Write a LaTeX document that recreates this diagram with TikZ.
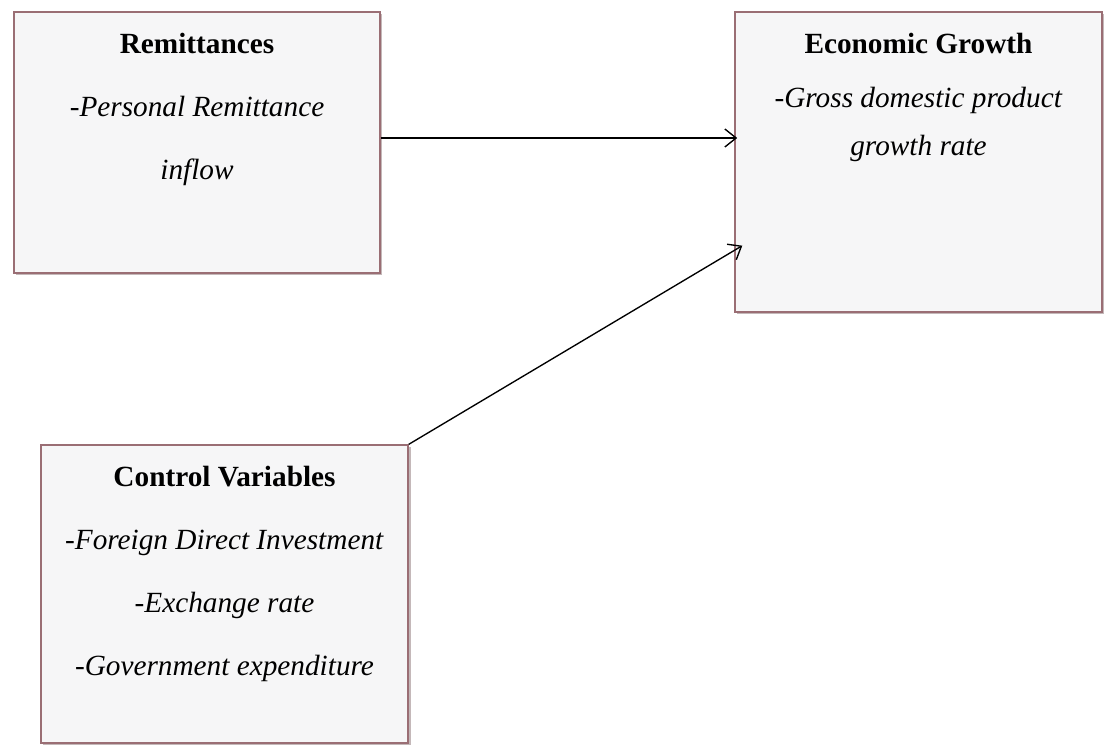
\documentclass[tikz,border=0pt]{standalone}
\usepackage{fontspec}
\setmainfont{Liberation Serif}
\usepackage{xcolor}
\definecolor{boxBorder}{HTML}{9A6E74}
\definecolor{boxFill}{HTML}{F6F6F7}
\usetikzlibrary{arrows.meta,positioning,shadows,calc}
\tikzset{
    varbox/.style={
        draw=boxBorder,
        fill=boxFill,
        rectangle,
        line width=0.6pt,
        inner sep=0pt,
        drop shadow={opacity=0.4, fill=boxBorder!70!black, shadow xshift=1.1pt, shadow yshift=-1.1pt}
    },
    boxtext/.style={
        anchor=north,
        align=center,
        inner sep=0pt,
        font=\fontsize{13}{28}\selectfont
    },
    arrow/.style={
        -{Straight Barb[length=5pt, width=8pt]},
        line width=0.6pt,
        color=black
    }
}

\begin{document}
\begin{tikzpicture}[x=0.444pt, y=-0.444pt]
    \useasboundingbox (0,0) rectangle (1104,749);
    % boxes
    \node[varbox, minimum width=162.5pt, minimum height=115.9pt] (rem) at (197,142.5) {};
    \node[varbox, minimum width=163pt, minimum height=133.2pt] (growth) at (918.5,162) {};
    \node[varbox, minimum width=163pt, minimum height=132.3pt] (ctrl) at (224.5,594) {};

    % texts inside
    \node[boxtext, below=9.3pt of rem.north] (remtext)
        {\textbf{Remittances}\\\textit{-Personal Remittance}\\\textit{inflow}};
    \node[boxtext, below=9.3pt of growth.north, font=\fontsize{13}{21.3}\selectfont] (growthtext)
        {\textbf{Economic Growth}\\[3pt]\textit{-Gross domestic product}\\\textit{growth rate}};
    \node[boxtext, below=9.3pt of ctrl.north] (ctrltext)
        {\textbf{Control Variables}\\\textit{-Foreign Direct Investment}\\\textit{-Exchange rate}\\\textit{-Government expenditure}};

    % links
    \coordinate (ctrlend) at ($(growth.south west)+(8,-67)$);
    \draw[arrow] ([yshift=2pt]rem.east) -- ([xshift=1.3pt,yshift=2pt]rem.east -| growth.west);
    \draw[arrow] (ctrl.north east) -- (ctrlend);
\end{tikzpicture}
\end{document}
